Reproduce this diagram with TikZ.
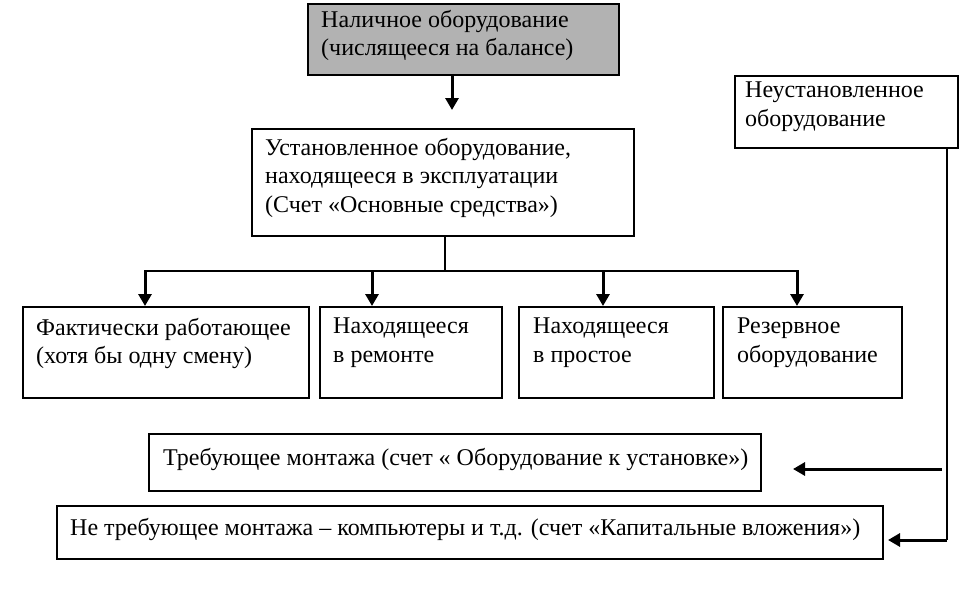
\documentclass[tikz,border=0pt]{standalone}
\usepackage{fontspec}
\setmainfont{Liberation Serif}
\usetikzlibrary{arrows.meta,calc}
\begin{document}
\begin{tikzpicture}[x=1pt,y=-1pt,
  box/.style={draw=black,line width=1.6pt,rectangle,inner sep=0pt,anchor=north west},
  lbl/.style={anchor=north west,align=left,inner sep=0pt,font=\fontsize{24}{28.5}\selectfont},
  arr/.style={line width=3pt,-{Triangle[length=12pt,width=13pt]}},
  ln/.style={line width=1.6pt}]
\useasboundingbox (0,0) rectangle (980,594);
% top box
\node[box,fill=black!30,minimum width=311pt,minimum height=71pt] (top) at (307,3) {};
\node[lbl] (topt) at (321,10) {Наличное оборудование\\(числящееся на балансе)};
% installed
\node[box,minimum width=382pt,minimum height=107pt] (inst) at (251,128) {};
\node[lbl] (instt) at (265,138) {Установленное оборудование,\\находящееся в эксплуатации\\(Счет «Основные средства»)};
% not installed
\node[box,minimum width=223pt,minimum height=72pt] (notin) at (734,75) {};
\node[lbl] (notint) at (745,82) {Неустановленное\\оборудование};
% bottom row
\node[box,minimum width=286pt,minimum height=91pt] (b1) at (22,306) {};
\node[lbl] (b1t) at (36,318) {Фактически работающее\\(хотя бы одну смену)};
\node[box,minimum width=182pt,minimum height=91pt] (b2) at (319,306) {};
\node[lbl] (b2t) at (333,318) {Находящееся\\в ремонте};
\node[box,minimum width=195pt,minimum height=91pt] (b3) at (518,306) {};
\node[lbl] (b3t) at (533,318) {Находящееся\\в простое};
\node[box,minimum width=179pt,minimum height=91pt] (b4) at (722,306) {};
\node[lbl] (b4t) at (737,318) {Резервное\\оборудование};
% mounting
\node[box,minimum width=612pt,minimum height=57pt] (m1) at (148,433) {};
\node[lbl] (m1t) at (163,448) {Требующее монтажа (счет « Оборудование к установке»)};
\node[box,minimum width=826pt,minimum height=53pt] (m2) at (56,505) {};
\node[lbl] (m2t) at (70,518) {Не требующее монтажа – компьютеры и т.д. (счет «Капитальные вложения»)};
% connectors
\draw[arr] (top.south -| 452,0) -- (452,110);
\coordinate (j) at (445,271);
\draw[ln] (inst.south -| j) -- (j);
\draw[ln] (145,271) -- (798,271);
\draw[arr] (145,270) -- (b1.north -| 145,0);
\draw[arr] (372,270) -- (b2.north -| 372,0);
\draw[arr] (603,270) -- (b3.north -| 603,0);
\draw[arr] (797,270) -- (b4.north -| 797,0);
\coordinate (r1) at (942,469);
\coordinate (r1e) at (793,469);
\coordinate (r2) at (947,540);
\coordinate (r2e) at (888,540);
\draw[ln] (notin.south -| 947,0) -- (r2);
\draw[arr] (r1) -- (r1e);
\draw[arr] (r2) -- (r2e);
\end{tikzpicture}
\end{document}
